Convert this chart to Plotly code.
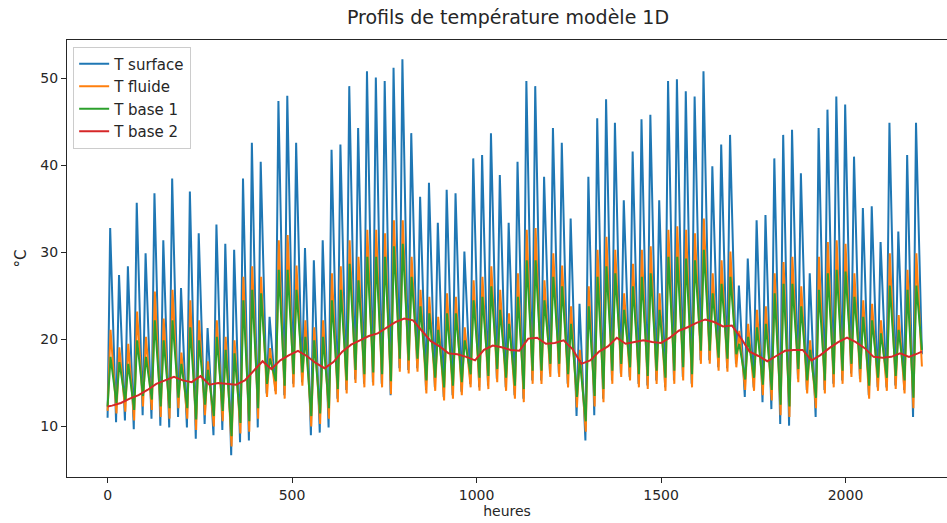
import plotly.graph_objects as go

# ---- data (daily extremes, ~2208 hourly steps) ----
blue_max = [32.8, 27.4, 28.4, 35.7, 29.9, 36.8, 31.4, 38.5, 25.9, 37.0, 32.2, 21.3, 33.2,
            31.0, 30.3, 38.5, 42.6, 40.4, 22.6, 47.4, 48.0, 42.6, 30.5, 29.1, 31.4, 41.8, 42.4, 49.1, 44.3, 50.8,
            50.1, 49.7, 51.2, 52.2, 43.7, 36.4, 38.0, 33.4, 37.2, 36.8, 30.1, 40.8, 41.2, 43.7, 38.9, 33.4, 40.4,
            49.7, 49.1, 38.7, 44.3, 42.6, 33.9, 24.1, 38.7, 45.4, 47.6, 44.9, 36.0, 41.6, 45.3, 45.8, 36.0, 49.7,
            49.9, 48.5, 47.9, 50.8, 39.9, 42.4, 43.5, 26.2, 29.3, 33.7, 34.3, 40.8, 43.5, 44.1, 39.1, 27.6, 44.3,
            46.4, 47.9, 47.0, 41.0, 35.1, 35.3, 31.2, 44.9, 32.4, 41.2, 44.9]
blue_min = [11.0, 10.5, 10.7, 9.7, 11.3, 10.9, 10.1, 9.9, 11.1, 9.9,
            8.6, 10.3, 9.0, 9.6, 6.7, 8.2, 8.4, 9.9, 13.8, 14.1,
            13.6, 14.9, 15.1, 9.0, 9.3, 9.9, 13.2, 14.2, 15.4, 14.9,
            15.1, 14.9, 13.6, 16.7, 16.5, 16.7, 14.2, 14.5, 13.4, 13.6,
            14.0, 14.9, 14.5, 14.7, 15.5, 14.5, 13.6, 13.2, 15.3, 15.3,
            16.1, 16.1, 14.9, 11.2, 8.4, 11.3, 13.2, 15.3, 16.1, 15.7,
            14.9, 14.7, 15.3, 14.5, 15.3, 15.7, 14.9, 17.6, 17.6, 16.8,
            16.7, 17.2, 13.4, 14.5, 12.8, 12.0, 10.3, 10.1, 15.5, 14.2,
            11.1, 14.2, 14.9, 15.3, 16.1, 15.5, 13.6, 14.5, 14.5, 14.7,
            14.2, 11.1, 18.3]
orange_max = [21.1, 19.1, 19.5, 23.2, 20.3, 25.5, 22.4, 25.7, 18.5, 24.5, 22.2, 17.5, 22.2, 20.3, 19.9, 27.2, 28.4, 27.2, 19.0, 31.4,
              32.0, 28.5, 22.2, 21.4, 22.2, 27.6, 28.4, 31.4, 29.5, 32.6, 32.6, 32.2, 33.7, 33.7, 29.5, 25.7, 24.9, 22.6, 25.3, 24.9, 21.4, 26.8, 27.2, 28.4, 25.7,
              23.0, 27.6, 32.6, 32.8, 26.8, 29.9, 28.5, 23.8, 18.8, 26.1, 30.3, 31.8, 30.3, 25.3, 28.7, 30.3, 30.7, 25.3, 32.6, 33.0, 32.6, 32.2, 33.9, 27.6, 29.1,
              30.1, 21.0, 21.8, 23.4, 23.8, 27.6, 28.9, 29.5, 26.1, 19.9, 29.5, 31.2, 31.4, 31.0, 27.6, 24.5, 24.1, 22.2, 29.9, 22.8, 28.0, 29.9]
orange_min = [11.8, 11.5, 11.7, 10.7, 12.3, 11.9, 11.1, 10.9, 12.1, 10.9,
              9.6, 11.3, 10.0, 10.6, 7.7, 9.2, 9.4, 10.9, 13.4, 13.7,
              13.2, 14.5, 14.7, 10.0, 10.3, 10.9, 12.8, 13.8, 15.0, 14.5,
              14.7, 14.5, 13.7, 16.3, 16.1, 16.3, 13.8, 14.1, 13.0, 13.2,
              13.6, 14.5, 14.1, 14.3, 15.1, 14.1, 13.2, 12.8, 14.9, 14.9,
              15.7, 15.7, 14.5, 12.2, 9.4, 12.3, 12.8, 14.9, 15.7, 15.3,
              14.5, 14.3, 14.9, 14.1, 14.9, 15.3, 14.5, 17.2, 17.2, 16.4,
              16.3, 16.8, 14.2, 14.1, 13.6, 13.0, 11.3, 11.1, 15.1, 13.8,
              12.1, 13.8, 14.5, 14.9, 15.7, 15.1, 13.2, 14.1, 14.1, 14.3,
              13.8, 12.1, 16.9]
green_max = [18.0, 17.4, 17.2, 19.9, 18.0, 22.2, 19.9, 22.2, 17.2, 21.4, 19.9, 16.5, 20.3, 18.8, 18.4, 24.5, 25.7, 25.3, 17.8, 28.0,
             28.0, 25.7, 20.3, 19.9, 20.3, 24.5, 25.7, 28.7, 26.8, 29.5, 29.5, 29.5, 30.7, 31.0, 27.2, 23.8, 23.0, 21.1, 23.0, 23.0, 19.9, 24.5, 24.9, 26.1, 23.4,
             21.8, 24.9, 29.1, 29.1, 24.5, 27.2, 26.1, 21.8, 17.6, 23.8, 27.2, 28.4, 27.6, 23.4, 26.1, 27.2, 27.6, 23.4, 29.5, 29.5, 29.3, 29.1, 30.3, 25.3, 26.4,
             27.2, 19.5, 20.3, 21.4, 21.8, 25.3, 26.4, 26.4, 23.8, 18.8, 25.7, 27.6, 28.0, 27.8, 24.9, 22.6, 22.2, 20.7, 26.2, 21.1, 25.7, 26.2]
green_min = [12.3, 12.7, 12.9, 11.9, 13.5, 13.1, 12.3, 12.1, 13.3, 12.1,
             10.8, 12.5, 11.2, 11.8, 8.9, 10.4, 10.6, 12.1, 14.9, 15.2,
             14.7, 16.0, 16.2, 11.2, 11.5, 12.1, 14.3, 15.3, 16.5, 16.0,
             16.2, 16.0, 15.2, 17.8, 17.6, 17.8, 15.3, 15.6, 14.5, 14.7,
             15.1, 16.0, 15.6, 15.8, 16.6, 15.6, 14.7, 14.3, 16.4, 16.4,
             17.2, 17.2, 16.0, 13.4, 10.6, 13.5, 14.3, 16.4, 17.2, 16.8,
             16.0, 15.8, 16.4, 15.6, 16.4, 16.8, 16.0, 18.7, 18.7, 17.9,
             17.8, 18.3, 15.4, 15.6, 14.8, 14.2, 12.5, 12.3, 16.6, 15.3,
             13.3, 15.3, 16.0, 16.4, 17.2, 16.6, 14.7, 15.6, 15.6, 15.8,
             15.3, 13.3, 18.8]
red_daily = [12.4, 12.7, 13.2, 13.6, 14.2, 14.9, 15.3, 15.7, 15.3, 15.1, 15.8, 14.8, 15.0, 14.9, 14.8,
             15.3, 16.4, 17.5, 16.6, 17.6, 18.2, 18.7, 18.1, 17.3, 16.7, 17.4, 18.6, 19.4, 19.9, 20.4,
             20.7, 21.4, 22.0, 22.4, 22.2, 21.0, 19.8, 19.2, 18.4, 18.3, 18.0, 17.6, 18.8, 19.3, 19.1, 18.8, 18.7,
             20.1, 20.2, 19.5, 19.6, 19.9, 18.9, 17.2, 17.6, 18.6, 19.2, 20.2, 19.5, 19.7, 19.9, 19.7, 19.6,
             20.2, 21.0, 21.4, 21.9, 22.3, 22.0, 21.5,
             21.6, 20.2, 18.6, 18.1, 17.5, 18.1, 18.7, 18.8, 18.8, 17.6, 18.2, 19.0, 19.7, 20.2, 19.7,
             19.0, 18.0, 17.9, 18.0, 18.4, 18.0, 18.4]
red_start, red_end = 12.3, 18.6

x_ticks = [0, 500, 1000, 1500, 2000]
y_ticks = [10, 20, 30, 40, 50]

# ---- time axis (hours) ----
n_days = len(blue_max)
trough_h = [0] + [24 * j - 1 for j in range(1, n_days)] + [24 * n_days - 1]
peak_h = [24 * k + 7 for k in range(n_days)]


def interleave(mins, maxs, shift=0):
    xs, ys = [], []
    for j in range(n_days):
        xs += [trough_h[j] + (shift if j else 0), peak_h[j] + shift]
        ys += [mins[j], maxs[j]]
    xs.append(trough_h[-1])
    ys.append(mins[-1])
    return xs, ys


bx, by = interleave(blue_min, blue_max)
ox, oy = interleave(orange_min, orange_max, 1)
gx, gy = interleave(green_min, green_max, 1)
rx = [0] + [24 * k + 12 for k in range(n_days)] + [24 * n_days - 1]
ry = [red_start] + red_daily + [red_end]

fig = go.Figure()
for name, xs, ys, col in [("T surface", bx, by, "#1f77b4"),
                          ("T fluide", ox, oy, "#ff7f0e"),
                          ("T base 1", gx, gy, "#2ca02c"),
                          ("T base 2", rx, ry, "#d62728")]:
    fig.add_trace(go.Scatter(x=xs, y=ys, mode="lines", name=name,
                             line=dict(color=col, width=2)))

font_family = "DejaVu Sans"
fig.update_layout(
    width=947, height=523,
    margin=dict(l=67, r=0, t=40, b=46),
    paper_bgcolor="white", plot_bgcolor="white",
    font=dict(family=font_family, size=14, color="#262626"),
    title=dict(text="Profils de température modèle 1D", x=508 / 947, xanchor="center",
               xref="container",
               y=1 - 17 / 523, yref="container", yanchor="middle",
               font=dict(size=19, color="#262626")),
    showlegend=True,
    legend=dict(x=0.007, y=0.985, xanchor="left", yanchor="top",
                bgcolor="rgba(255,255,255,0.8)", bordercolor="#cccccc", borderwidth=1,
                font=dict(size=15), itemwidth=30, tracegroupgap=0),
)
fig.update_xaxes(range=[-110, 2275], tickvals=x_ticks, ticks="outside", ticklen=5,
                 tickcolor="#262626", showgrid=False, zeroline=False,
                 showline=True, linecolor="#262626", linewidth=1, mirror=True,
                 title=dict(text="heures", standoff=4, font=dict(size=14)))
fig.update_yaxes(range=[4.2, 54.4], tickvals=y_ticks, ticks="outside", ticklen=5,
                 tickcolor="#262626", showgrid=False, zeroline=False,
                 showline=True, linecolor="#262626", linewidth=1, mirror=False,
                 title=dict(text="°C", standoff=10, font=dict(size=15)))

fig.write_html("out.html")
